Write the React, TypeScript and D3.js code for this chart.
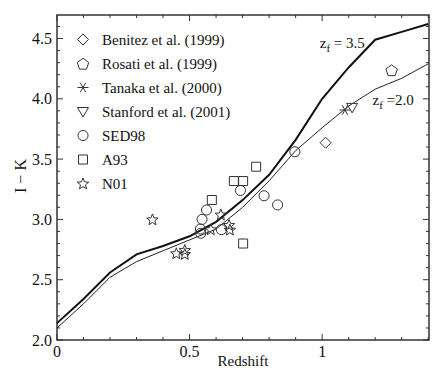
import React from "react";
import * as d3 from "d3";

// model tracks (redshift grid + colours for two formation epochs)
const modelZ = [0, 0.1, 0.2, 0.3, 0.4, 0.5, 0.6, 0.7, 0.8, 0.9, 1.0, 1.1, 1.2, 1.3, 1.4];
const zf35 = [2.14, 2.34, 2.56, 2.71, 2.78, 2.86, 2.98, 3.16, 3.37, 3.66, 4.0, 4.26, 4.49, 4.555, 4.62];
const zf20 = [2.1, 2.3, 2.52, 2.65, 2.74, 2.83, 2.92, 3.1, 3.32, 3.57, 3.76, 3.94, 4.08, 4.17, 4.29];

// observed clusters
const benitez = [[1.013, 3.636]];
const rosati = [[1.262, 4.239]];
const tanaka = [[1.086, 3.907]];
const stanford = [[1.113, 3.929]];
const sed98 = [
  [0.897, 3.561], [0.692, 3.24], [0.781, 3.196], [0.832, 3.12], [0.564, 3.078],
  [0.547, 3.0], [0.541, 2.92], [0.542, 2.885], [0.62, 2.915],
];
const a93 = [[0.751, 3.437], [0.667, 3.318], [0.702, 3.318], [0.584, 3.161], [0.702, 2.8]];
const n01 = [
  [0.36, 3.0], [0.618, 3.04], [0.58, 2.918], [0.649, 2.954], [0.652, 2.915],
  [0.45, 2.719], [0.482, 2.746], [0.482, 2.713],
];

const legendLabels = [
  "Benitez et al. (1999)", "Rosati et al. (1999)", "Tanaka et al. (2000)",
  "Stanford et al. (2001)", "SED98", "A93", "N01",
];
const xTickLabels = [0, 0.5, 1];
const yTickLabels = [2.0, 2.5, 3.0, 3.5, 4.0, 4.5];

const W = 445, H = 381;
const FONT = "Liberation Serif";
const INK = "#333";
const margin = { top: 15, left: 57, bottom: 41, right: 16 };
const iw = W - margin.left - margin.right;
const ih = H - margin.top - margin.bottom;

// marker path generators, centred at 0,0
const markers = {
  diamond: () => "M0,-5.5L5.5,0L0,5.5L-5.5,0Z",
  pentagon: () => {
    const r = 6;
    const pts = d3.range(5).map((i) => {
      const a = -Math.PI / 2 + (i * 2 * Math.PI) / 5;
      return [r * Math.cos(a), r * Math.sin(a) + 0.8];
    });
    return "M" + pts.map((p) => p.join(",")).join("L") + "Z";
  },
  asterisk: () => {
    const r = 5.5, c = r * Math.cos(Math.PI / 3), s = r * Math.sin(Math.PI / 3);
    return `M${-r},0L${r},0M${-c},${-s}L${c},${s}M${-c},${s}L${c},${-s}`;
  },
  triangle: () => "M-5.5,-4L5.5,-4L0,5.5Z",
  circle: () => d3.symbol().type(d3.symbolCircle).size(80)(),
  square: () => "M-4.5,-4.5L4.5,-4.5L4.5,4.5L-4.5,4.5Z",
  star: () => {
    const R = 6, r = 2.6;
    const pts = d3.range(10).map((i) => {
      const a = -Math.PI / 2 + (i * Math.PI) / 5;
      const rr = i % 2 === 0 ? R : r;
      return [rr * Math.cos(a), rr * Math.sin(a) + 0.5];
    });
    return "M" + pts.map((p) => p.join(",")).join("L") + "Z";
  },
};

const series = [
  { data: benitez, shape: "diamond" },
  { data: rosati, shape: "pentagon" },
  { data: tanaka, shape: "asterisk" },
  { data: stanford, shape: "triangle" },
  { data: sed98, shape: "circle" },
  { data: a93, shape: "square" },
  { data: n01, shape: "star" },
];

const x = d3.scaleLinear().domain([0, 1.403]).range([0, iw]);
const y = d3.scaleLinear().domain([2, 4.695]).range([ih, 0]);
const line = d3.line().x((d) => x(d[0])).y((d) => y(d[1]));

const isMajor = (v) => Math.abs(v * 2 - Math.round(v * 2)) < 1e-6;

const ZLabel = ({ zx, zy, val }) => (
  <text x={x(zx)} y={y(zy)} fontSize={15} fill="#111" style={{ fontFamily: FONT }}>
    <tspan>z</tspan>
    <tspan fontSize={11} dy={4}>f</tspan>
    <tspan dy={-4}>{val}</tspan>
  </text>
);

export default function App() {
  const minorX = d3.range(0, 1.41, 0.1);
  const minorY = d3.range(2, 4.7, 0.1);

  return (
    <svg width={W} height={H} style={{ position: "absolute", left: 0, top: 0, background: "white" }}>
      <g transform={`translate(${margin.left},${margin.top})`}>
        {/* ticks on all sides, inward */}
        <g stroke={INK} strokeWidth={1}>
          {minorX.map((v, i) => {
            const len = isMajor(v) ? 6 : 3;
            return (
              <g key={"x" + i}>
                <line x1={x(v)} x2={x(v)} y1={ih} y2={ih - len} />
                <line x1={x(v)} x2={x(v)} y1={0} y2={len} />
              </g>
            );
          })}
          {minorY.map((v, i) => {
            const len = isMajor(v) ? 6 : 3;
            return (
              <g key={"y" + i}>
                <line y1={y(v)} y2={y(v)} x1={0} x2={len} />
                <line y1={y(v)} y2={y(v)} x1={iw} x2={iw - len} />
              </g>
            );
          })}
        </g>
        <rect width={iw} height={ih} fill="none" stroke={INK} strokeWidth={1.5} />

        {xTickLabels.map((d) => (
          <text key={"xl" + d} x={x(d)} y={ih + 17} textAnchor="middle" fontSize={16} fill="#111" style={{ fontFamily: FONT }}>
            {String(d)}
          </text>
        ))}
        {yTickLabels.map((d) => (
          <text key={"yl" + d} x={-5} y={y(d) + 5.5} textAnchor="end" fontSize={16} fill="#111" style={{ fontFamily: FONT }}>
            {d.toFixed(1)}
          </text>
        ))}

        <path d={line(modelZ.map((z, i) => [z, zf20[i]]))} fill="none" stroke="#222" strokeWidth={1} />
        <path d={line(modelZ.map((z, i) => [z, zf35[i]]))} fill="none" stroke="#111" strokeWidth={2} />

        <ZLabel zx={0.991} zy={4.42} val=" = 3.5" />
        <ZLabel zx={1.19} zy={3.945} val=" =2.0" />

        {series.map((s) =>
          s.data.map((d, j) => (
            <path
              key={s.shape + j}
              transform={`translate(${x(d[0])},${y(d[1])})`}
              d={markers[s.shape]()}
              fill="none"
              stroke={INK}
              strokeWidth={1}
            />
          ))
        )}
      </g>

      <text x={margin.left + iw / 2} y={366} textAnchor="middle" fontSize={15} fill="#111" style={{ fontFamily: FONT }}>
        Redshift
      </text>
      <text transform="translate(26,176) rotate(-90)" textAnchor="middle" fontSize={16} fill="#111" style={{ fontFamily: FONT }}>
        I {"\u2212"} K
      </text>

      <g transform="translate(83,39.5)">
        {series.map((s, i) => (
          <g key={"leg" + i} transform={`translate(0,${i * 24})`}>
            <path d={markers[s.shape]()} fill="none" stroke={INK} strokeWidth={1} />
            <text x={19} y={5} fontSize={15} fill="#111" style={{ fontFamily: FONT }}>
              {legendLabels[i]}
            </text>
          </g>
        ))}
      </g>
    </svg>
  );
}
